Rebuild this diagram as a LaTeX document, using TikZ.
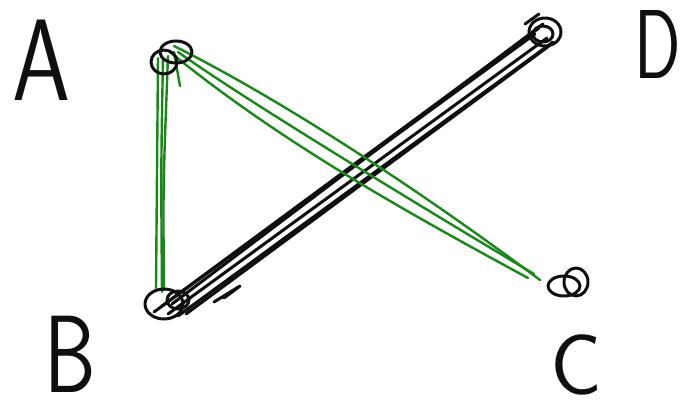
\documentclass[tikz,border=0pt]{standalone}
\usepackage{graphicx}
\definecolor{pen}{RGB}{15,15,15}
\definecolor{greenpen}{RGB}{25,135,25}
\tikzset{
  letter/.style={font=\sffamily, text=pen, inner sep=0pt, anchor=base},
  vert/.style={circle, minimum size=22pt, inner sep=0pt},
  blackstroke/.style={draw=pen, line width=3pt, line cap=round, line join=round},
  greenstroke/.style={draw=greenpen, line width=2.4pt, line cap=round, line join=round}
}
\begin{document}
\begin{tikzpicture}[x=1pt,y=-1pt]
\useasboundingbox (0,0) rectangle (686,412);
% letters
\node[letter] (la) at (42,100) {\fontsize{116}{116}\selectfont\scalebox{0.8}[1]{A}};
\node[letter] (lb) at (70,392) {\fontsize{110}{110}\selectfont\scalebox{0.75}[1]{B}};
\node[letter] (lc) at (576,394) {\fontsize{86}{86}\selectfont C};
\node[letter] (ld) at (658,78) {\fontsize{98}{98}\selectfont\scalebox{0.7}[1]{D}};
% vertices
\node[vert] (A) at (166,58) {};
\node[vert] (B) at (164,304) {};
\node[vert] (C) at (570,284) {};
\node[vert] (D) at (545,32) {};
% black band B--D
\draw[blackstroke] ([shift={(-10,8)}]B.center) -- ([shift={(-10,2)}]D.center);
\draw[blackstroke] ([shift={(-2,2)}]B.center) -- ([shift={(-6,-4)}]D.center);
\draw[blackstroke] ([shift={(4,10)}]B.center) -- ([shift={(2,6)}]D.center);
\draw[blackstroke] ([shift={(14,12)}]B.center) -- ([shift={(8,10)}]D.center);
\draw[blackstroke] ([shift={(8,0)}]B.center) -- ([shift={(-2,-8)}]D.center);
\draw[blackstroke] ([shift={(22,10)}]B.center) -- ([shift={(4,14)}]D.center);
\draw[blackstroke] ([shift={(50,-2)}]B.center) -- ([shift={(76,-18)}]B.center) -- ([shift={(60,-6)}]B.center);
\draw[blackstroke] ([shift={(-20,-8)}]D.center) -- ([shift={(-6,-18)}]D.center);
% green A--B
\draw[greenstroke] ([shift={(-8,0)}]A.center) -- ([shift={(-8,-16)}]B.center);
\draw[greenstroke] ([shift={(-3,0)}]A.center) .. controls ([shift={(-5,110)}]A.center) .. ([shift={(-2,-12)}]B.center);
\draw[greenstroke] ([shift={(2,-2)}]A.center) .. controls ([shift={(-3,130)}]A.center) .. ([shift={(0,-14)}]B.center);
\draw[greenstroke] ([shift={(8,-6)}]A.center) -- ([shift={(14,28)}]A.center);
% green A--C
\draw[greenstroke] ([shift={(8,-12)}]A.center) .. controls (290,104) and (430,198) .. ([shift={(-30,-4)}]C.center);
\draw[greenstroke] ([shift={(4,-6)}]A.center) .. controls (280,142) and (410,214) .. ([shift={(-42,-6)}]C.center);
\draw[greenstroke] ([shift={(12,-6)}]A.center) .. controls (240,96) and (380,182) .. ([shift={(-36,-10)}]C.center);
% vertex scribbles
\draw[blackstroke] ([shift={(-2,4)}]A.center) ellipse [x radius=13, y radius=12];
\draw[blackstroke] ([shift={(10,-6)}]A.center) ellipse [x radius=16, y radius=11];
\draw[blackstroke] (B) ellipse [x radius=19, y radius=15];
\draw[blackstroke] ([shift={(14,-4)}]B.center) ellipse [x radius=11, y radius=9];
\draw[blackstroke] ([shift={(-6,2)}]C.center) ellipse [x radius=16, y radius=10];
\draw[blackstroke] ([shift={(6,-2)}]C.center) ellipse [x radius=12, y radius=14];
\draw[blackstroke] (D) ellipse [x radius=16, y radius=14];
\draw[blackstroke] ([shift={(-2,2)}]D.center) ellipse [x radius=10, y radius=8];
\end{tikzpicture}
\end{document}
